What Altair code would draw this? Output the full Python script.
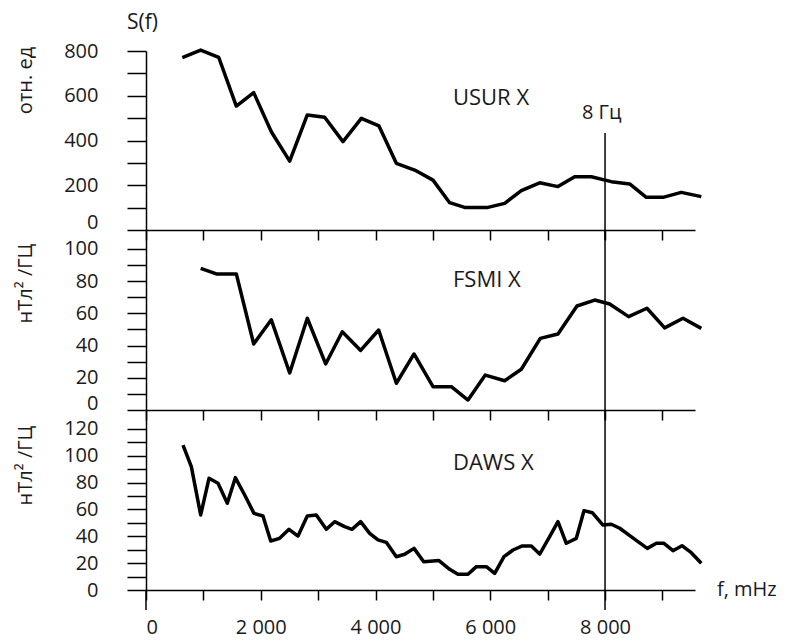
import altair as alt
import pandas as pd

FONT = "Open Sans"
INK = "#1a1a1a"

# ---- data ----
usur_f = [633, 953, 1267, 1574, 1877, 2184, 2504, 2811, 3114, 3433,
          3753, 4060, 4363, 4682, 5002, 5292, 5553, 5960, 6251, 6541,
          6861, 7180, 7471, 7761, 8110, 8430, 8719, 9010, 9329, 9678]
usur_v = [770, 804, 772, 554, 614, 439, 308, 514, 504, 395,
          499, 465, 298, 268, 223, 122, 101, 101, 119, 176,
          211, 194, 238, 238, 216, 206, 146, 146, 168, 149]

fsmi_f = [953, 1226, 1574, 1877, 2184, 2504, 2811, 3131, 3421, 3741,
          4055, 4363, 4671, 5002, 5321, 5612, 5913, 6251, 6541, 6872,
          7180, 7511, 7820, 8081, 8411, 8731, 9039, 9359, 9678]
fsmi_v = [88, 84.5, 84.5, 41, 56, 23, 57, 28.6, 48.6, 37,
          49.7, 16.6, 34.8, 14.5, 14.5, 6.2, 21.7, 18.2, 25.3, 44.5,
          47.2, 64.6, 68.3, 65.8, 58, 63.2, 51, 57, 50.7]

daws_f = [645, 790, 953, 1098, 1255, 1417, 1557, 1720, 1882, 2039,
          2173, 2329, 2492, 2649, 2811, 2968, 3143, 3288, 3462, 3590,
          3741, 3898, 4043, 4188, 4363, 4508, 4671, 4840, 5106, 5292,
          5437, 5612, 5757, 5931, 6077, 6239, 6396, 6559, 6716, 6861,
          7018, 7180, 7325, 7500, 7633, 7778, 7964, 8110, 8256, 8413,
          8574, 8737, 8894, 9027, 9184, 9341, 9503, 9678]
daws_v = [108, 91.9, 55.9, 83.2, 79.5, 64.6, 83.7, 70.8, 57.1, 55.1,
          36.5, 38.5, 45.2, 40.2, 55.1, 55.9, 45.2, 50.9, 47.2, 45.2,
          50.9, 42.2, 37.3, 35.5, 24.8, 26.6, 31, 21.1, 21.9, 15.4,
          11.7, 11.7, 17.4, 17.4, 12.4, 24.8, 29.8, 32.8, 32.8, 26.8,
          38.5, 50.9, 34.8, 38.5, 59.1, 57.6, 48.4, 49, 46, 41,
          36, 31, 34.8, 34.8, 29.3, 33, 27.8, 19.9]

x_ticks = [0, 1000, 2000, 3000, 4000, 5000, 6000, 7000, 8000, 9000]
marker_f = [8000]
XMAX = 9568
W = 549


def x_enc(labels):
    ax = dict(values=x_ticks, title=None, tickSize=10)
    if labels:
        ax.update(labelExpr="datum.value % 2000 == 0 ? replace(format(datum.value, ',d'), ',', ' ') : ''",
                  labelPadding=17)
    else:
        ax.update(labels=False)
    return alt.X("f:Q", scale=alt.Scale(domain=[0, XMAX], nice=False, zero=False),
                 axis=alt.Axis(**ax))


def y_enc(ymax, yvals, step, title, title_y, zero_offset):
    return alt.Y(
        "v:Q",
        scale=alt.Scale(domain=[0, ymax], nice=False, zero=False),
        axis=alt.Axis(
            values=yvals,
            labelExpr=f"datum.value % {step} == 0 ? datum.label : ''",
            labelOffset={"condition": {"test": "datum.value == 0", "value": zero_offset}, "value": 0},
            tickSize=19, labelPadding=29,
            title=title, titleAngle=-90, titleX=-121, titleY=title_y,
            titleAlign="center", titleBaseline="middle",
        ),
    )


def line(f, v, xe, ye):
    d = pd.DataFrame({"f": f, "v": v})
    return alt.Chart(d).mark_line(color="black", strokeWidth=3.5, strokeJoin="round").encode(
        x=xe, y=ye)


def label(text, f, v, xe, ye, size=22):
    d = pd.DataFrame({"f": [f], "v": [v], "t": [text]})
    return alt.Chart(d).mark_text(
        align="left", baseline="middle", font=FONT, fontSize=size, color=INK
    ).encode(x=xe, y=ye, text="t:N")


def vline(fs, y0, y1, xe):
    d = pd.DataFrame({"f": fs})
    return alt.Chart(d).mark_rule(color="black", strokeWidth=1.5).encode(
        x=xe, y=alt.value(y0), y2=alt.value(y1))


def free_text(text, px, py, size):
    return alt.Chart(pd.DataFrame({"t": [text]})).mark_text(
        align="left", baseline="middle", font=FONT, fontSize=size, color=INK
    ).encode(x=alt.value(px), y=alt.value(py), text="t:N")


# ---- top panel ----
xt = x_enc(False)
yt = y_enc(800, list(range(0, 801, 100)), 200, "отн. ед", 29, -8)
top = alt.layer(
    line(usur_f, usur_v, xt, yt),
    vline(marker_f, 82, 189, xt),
    label("USUR X", 5350, 590, xt, yt),
    label("8 Гц", 7598, 523, xt, yt, size=20),
    free_text("S(f)", -19, -28, 21),
).properties(width=W, height=179)

# ---- middle panel ----
xm = x_enc(False)
ym = y_enc(111.8, list(range(0, 101, 10)), 20, "нТл² /ГЦ", 53, -7)
mid = alt.layer(
    line(fsmi_f, fsmi_v, xm, ym),
    vline(marker_f, 0, 190, xm),
    label("FSMI X", 5350, 80.7, xm, ym),
).properties(width=W, height=180)

# ---- bottom panel ----
xb = x_enc(True)
yb = y_enc(134.1, list(range(0, 121, 10)), 20, "нТл² /ГЦ", 55, 0)
bot = alt.layer(
    line(daws_f, daws_v, xb, yb),
    vline(marker_f, 0, 200, xb),
    vline([0], 180, 200, xb),
    label("DAWS X", 5350, 94.6, xb, yb),
    free_text("f, mHz", 571, 180, 20),
).properties(width=W, height=180)

chart = alt.vconcat(top, mid, bot, spacing=0, bounds="flush").configure_view(
    stroke=None
).configure_axis(
    ticks=True, tickColor="black", tickWidth=1.5, tickOpacity=1,
    domainColor="black", domainWidth=1.5, grid=False,
    labelOverlap=False, labelFont=FONT, labelFontSize=20, labelColor=INK,
    titleFont=FONT, titleFontSize=20, titleFontWeight="normal", titleColor=INK,
).properties(padding={"left": 7, "top": 4, "right": 0, "bottom": 0})

chart.save("out.html", embed_options={"renderer": "svg", "actions": False})
